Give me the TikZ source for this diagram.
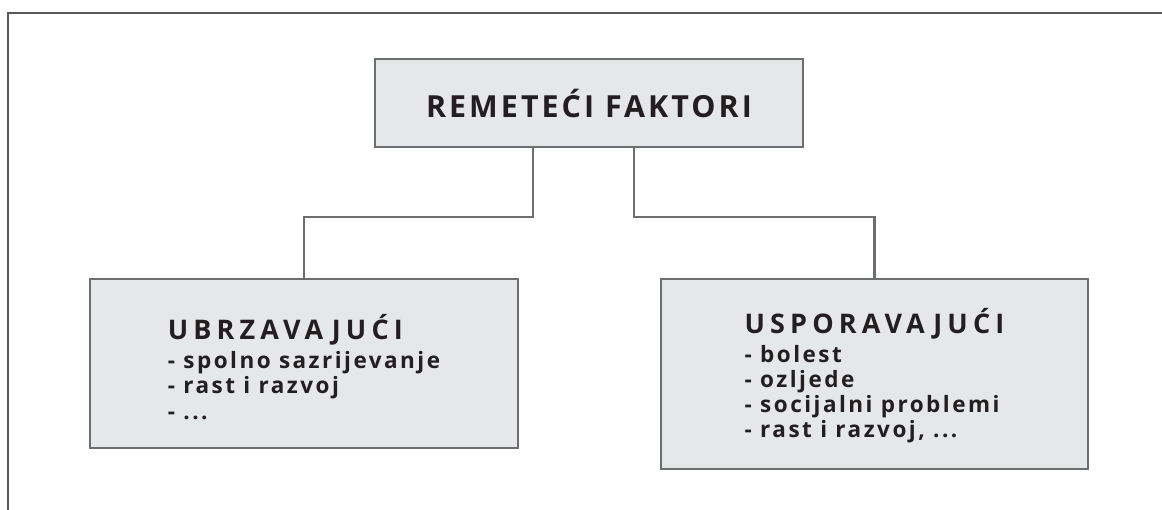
\documentclass[tikz,border=0pt]{standalone}
\usepackage{fontspec}
\setmainfont{Open Sans}
\newfontfamily\titlefont[LetterSpace=10]{Open Sans}
\newfontfamily\headfont[LetterSpace=19]{Open Sans}
\newfontfamily\itemfont[LetterSpace=11]{Open Sans}
\definecolor{boxfill}{HTML}{E6E7E9}
\definecolor{boxline}{HTML}{6D6E71}
\definecolor{frameline}{HTML}{58595B}
\definecolor{txt}{HTML}{231F20}
\tikzset{
  stagebox/.style={draw=boxline, fill=boxfill, line width=2.6pt, inner sep=0pt, text=txt},
  boxtext/.style={align=left, text=txt, inner sep=0pt},
  conn/.style={draw=boxline, line width=2.6pt},
  framel/.style={draw=frameline, line width=2.4pt},
}
\begin{document}
\begin{tikzpicture}[x=1pt,y=-1pt]
\useasboundingbox (0,0) rectangle (1162,509);
\coordinate (ftr) at (1170,13);
\coordinate (fc) at (8,13);
\coordinate (fbl) at (8,515);
\draw[framel] (ftr) -- (fc) -- (fbl);
\node[stagebox, minimum width=428pt, minimum height=88pt,
      font=\titlefont\bfseries\fontsize{30.4}{34}\selectfont] (top) at (589,103) {REMETEĆI FAKTORI};
\node[stagebox, minimum width=428pt, minimum height=169pt] (ub) at (304,363.5) {};
\node[boxtext, font=\itemfont\bfseries\fontsize{22.5}{25.5}\selectfont] (ubt) at (304,367)
  {{\headfont\fontsize{27}{30}\selectfont UBRZAVAJUĆI}\\[3.5pt]
   - spolno sazrijevanje\\
   - rast i razvoj\\
   - ...};
\node[stagebox, minimum width=427pt, minimum height=190pt] (us) at (874.5,374) {};
\node[boxtext, font=\itemfont\bfseries\fontsize{22.5}{25.3}\selectfont] (ust) at (874.5,376)
  {{\headfont\fontsize{27}{30}\selectfont USPORAVAJUĆI}\\[3pt]
   - bolest\\
   - ozljede\\
   - socijalni problemi\\
   - rast i razvoj, ...};
\coordinate (cl) at (533,217);
\coordinate (cr) at (634,217);
\draw[conn] (top.south -| cl) -- (cl) -| (ub.north);
\draw[conn] (top.south -| cr) -- (cr) -| (us.north);
\end{tikzpicture}
\end{document}
